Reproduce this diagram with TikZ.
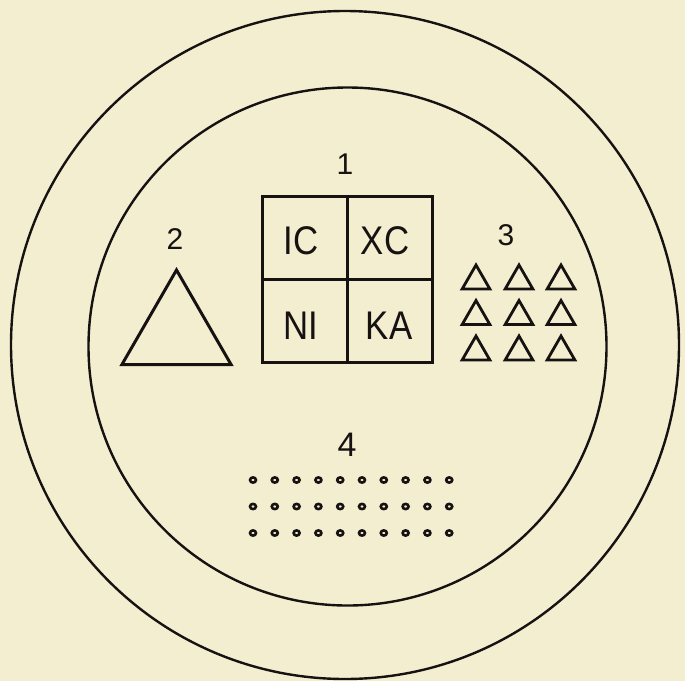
\documentclass[tikz,border=0pt]{standalone}
\usepackage{fontspec}
\setmainfont{Liberation Sans}
\usepackage{graphicx}
\usetikzlibrary{shapes.geometric, positioning}
\usepackage{xcolor}

\definecolor{paper}{RGB}{243,238,208}
\definecolor{ink}{RGB}{22,18,18}
\newcommand{\cellword}[1]{\scalebox{0.87}[1]{#1}}

\begin{document}
\begin{tikzpicture}[x=1pt, y=-1pt,
    ring/.style={draw=ink, circle, line width=2.4pt, inner sep=0pt, outer sep=0pt},
    board/.style={draw=ink, line width=3pt, minimum width=170pt, minimum height=166pt, inner sep=0pt},
    word/.style={text=ink, inner sep=0pt, font=\fontsize{40}{42}\selectfont},
    number/.style={text=ink, inner sep=0pt, font=\fontsize{30}{32}\selectfont},
    bigtri/.style={draw=ink, regular polygon, regular polygon sides=3, minimum size=126pt, inner sep=0pt, outer sep=0pt, line width=3pt},
    smalltri/.style={draw=ink, regular polygon, regular polygon sides=3, minimum size=32pt, inner sep=0pt, outer sep=0pt, line width=2.8pt},
    dot/.style={draw=ink, ellipse, minimum width=6pt, minimum height=5.2pt, inner sep=0pt, line width=2.6pt}
]

% Paper
\fill[paper] (0,0) rectangle (685,681);
\useasboundingbox (0,0) rectangle (685,681);

% Rings
\node[ring, minimum size=668pt] (outer) at (345,345) {};
\node[ring, minimum size=518pt] (inner) at (347.5,346.5) {};

% 1: the lettered square
\node[number] (one) at (345,164) {1};
\node[board] (square) at (347,279) {};
\draw[ink, line width=3pt] (square.north) -- (square.south);
\draw[ink, line width=3pt] (square.west) -- (square.east);
\node[word] (ic) at (301,241) {\cellword{IC}};
\node[word] (xc) at (385,241) {\cellword{XC}};
\node[word] (ni) at (301,326) {\cellword{NI}};
\node[word] (ka) at (389,326) {\cellword{KA}};

% 2: the large triangle
\node[number] (two) at (175,239) {2};
\node[bigtri] (tri) at (176.5,333) {};

% 3: nine small triangles
\node[number] (three) at (506,235) {3};
\foreach \r/\y in {0/281, 1/316.5, 2/352}
  \foreach \c/\x in {0/476, 1/519, 2/561}
    \node[smalltri] (t\r\c) at (\x,\y) {};

% 4: rows of dots
\node[number, font=\fontsize{34}{36}\selectfont] (four) at (347,445) {4};
\foreach \r in {0,1,2}
  \foreach \c in {0,...,9}
    \node[dot] (d\r\c) at ({253+21.8*\c},{480+26.5*\r}) {};

\end{tikzpicture}
\end{document}
